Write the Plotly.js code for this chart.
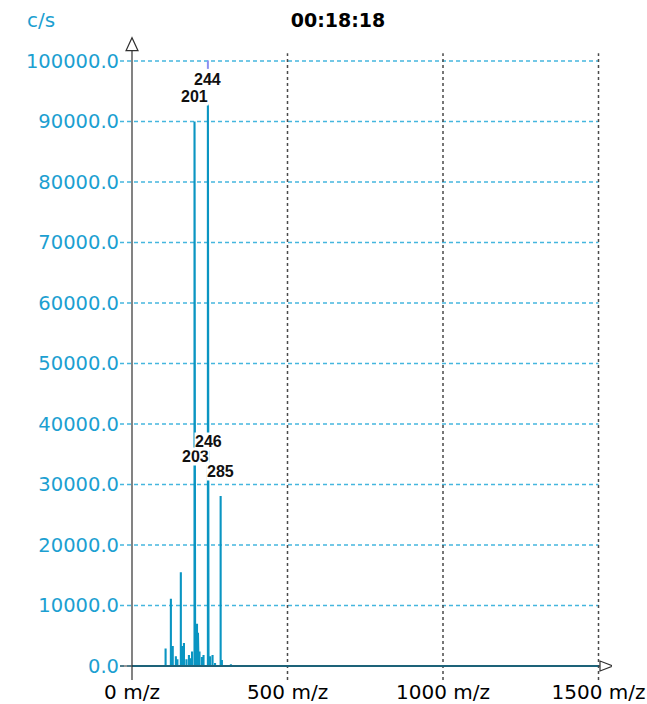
<!DOCTYPE html>
<html>
<head>
<meta charset="utf-8">
<script src="https://cdn.plot.ly/plotly-3.0.1.min.js"></script>
<style>
  html, body { margin: 0; padding: 0; background: #ffffff; }
  #chart { width: 647px; height: 704px; }
</style>
</head>
<body>
<div id="chart"></div>
<script>
// Centroided mass spectrum, single scan
const scanTime = '00:18:18';
const intensityUnit = 'c/s';
const scanRange = [0, 1500];

// Peak list: m/z and intensity (counts per second)
const peakMz = [108, 125, 131, 141, 146, 157, 161, 167, 175, 183, 188, 193,
                201, 203, 209, 212, 214, 217, 225, 230, 244, 246, 251, 259,
                267, 285, 289, 318];
const peakIntensity = [2900, 11100, 3300, 1600, 1100, 15500, 3300, 3800, 1100, 1800, 1300, 2400,
                       90000, 30500, 7000, 5500, 4300, 2400, 1500, 1800, 92800, 30700, 1600, 1800,
                       500, 28100, 1000, 300];
// Peaks that carry an m/z label
const labelledMz = [201, 203, 244, 246, 285];

// Cursor tick over the base peak
const cursorMz = 244;
const cursorSpan = [98700, 100100];

// Axis ticks
const yTickVals = [0, 10000, 20000, 30000, 40000, 50000, 60000, 70000, 80000, 90000, 100000];
const yTickText = yTickVals.map(v => v.toFixed(1));
const xTickVals = [0, 500, 1000, 1500];
const xTickText = xTickVals.map(v => v + ' m/z');

// ---- geometry ----
const W = 647, H = 704;
const margin = { l: 120, r: 35, t: 34, b: 14, pad: 0 };
const xRange = [-38.6, 1543.4];
const yRange = [-3967, 104463];
const plotW = W - margin.l - margin.r;
const plotH = H - margin.t - margin.b;
const pxPerX = plotW / (xRange[1] - xRange[0]);
const pxPerY = plotH / (yRange[1] - yRange[0]);

const blue = '#1c9fd1';
const stickColor = '#0a95c2';
const gridBlue = '#45b6de';
const gridGrey = '#4a4a4a';
const axisBlack = '#303030';

// ---- stick spectrum (sticks joined along the baseline) ----
const order = peakMz.map((m, i) => i).sort((a, b) => peakMz[a] - peakMz[b]);
const stickX = [scanRange[0]];
const stickY = [0];
order.forEach(i => {
  stickX.push(peakMz[i], peakMz[i], peakMz[i]);
  stickY.push(0, peakIntensity[i], 0);
});
stickX.push(scanRange[1]);
stickY.push(0);

const traces = [
  {
    x: stickX, y: stickY, type: 'scatter', mode: 'lines',
    line: { color: stickColor, width: 2.1 },
    hoverinfo: 'skip', showlegend: false
  },
  {
    x: [cursorMz, cursorMz], y: cursorSpan, type: 'scatter', mode: 'lines',
    line: { color: '#8c90f2', width: 2 },
    hoverinfo: 'skip', showlegend: false
  }
];

// ---- grid, axes and arrow heads ----
const gridTop = 101300, gridBottom = -2300, yAxisTop = 101700;
const shapes = [];
yTickVals.forEach(v => shapes.push({
  type: 'line', layer: 'below', xref: 'x', yref: 'y',
  x0: xRange[0], x1: scanRange[1], y0: v, y1: v,
  line: { color: gridBlue, width: 1.5, dash: '4px,3px' }
}));
xTickVals.filter(v => v > 0).forEach(v => shapes.push({
  type: 'line', layer: 'below', xref: 'x', yref: 'y',
  x0: v, x1: v, y0: gridBottom, y1: gridTop,
  line: { color: gridGrey, width: 1.5, dash: '3px,3px' }
}));
// x axis along zero intensity
shapes.push({
  type: 'line', layer: 'above', xref: 'x', yref: 'y',
  x0: xRange[0], x1: scanRange[1] + 5, y0: 0, y1: 0,
  line: { color: axisBlack, width: 1 }
});
// y axis
shapes.push({
  type: 'line', layer: 'above', xref: 'x', yref: 'y',
  x0: 0, x1: 0, y0: gridBottom, y1: yAxisTop,
  line: { color: axisBlack, width: 1.2 }
});
// open arrow heads
shapes.push({
  type: 'path', layer: 'above', xref: 'x', yref: 'y',
  xsizemode: 'pixel', ysizemode: 'pixel', xanchor: 0, yanchor: yAxisTop,
  path: 'M -6,0 L 0,13 L 6,0 Z',
  fillcolor: '#ffffff', line: { color: axisBlack, width: 1.2 }
});
shapes.push({
  type: 'path', layer: 'above', xref: 'x', yref: 'y',
  xsizemode: 'pixel', ysizemode: 'pixel', xanchor: scanRange[1], yanchor: 0,
  path: 'M 1.5,-5 L 14.5,0 L 1.5,5 Z',
  fillcolor: '#ffffff', line: { color: axisBlack, width: 1.2 }
});

// ---- peak labels, pushed upward when they would collide ----
const annotations = [];
const placed = [];
labelledMz.forEach(mz => {
  const h = peakIntensity[peakMz.indexOf(mz)];
  const top = h * pxPerY;
  let c = top + 25;
  let moved = true;
  while (moved) {
    moved = false;
    for (const p of placed) {
      if (Math.abs((mz - p.mz) * pxPerX) < 26 && Math.abs(c - p.c) < 13) {
        c = p.c + 15;
        moved = true;
      }
    }
  }
  placed.push({ mz, c });
  annotations.push({
    x: mz, y: h, xref: 'x', yref: 'y', showarrow: false,
    xanchor: 'center', yanchor: 'middle', yshift: c - top,
    text: '<b>' + mz + '</b>',
    font: { family: 'Liberation Sans, Arial, sans-serif', size: 16, color: '#111111' },
    bgcolor: '#ffffff', borderpad: 0
  });
});

// intensity unit, top-left
annotations.push({
  xref: 'paper', yref: 'paper',
  x: (25 - margin.l) / plotW, y: (H - margin.b - 20) / plotH,
  xanchor: 'left', yanchor: 'middle', showarrow: false,
  text: intensityUnit,
  font: { family: 'DejaVu Sans, sans-serif', size: 20, color: blue }
});

const layout = {
  width: W, height: H,
  margin: margin,
  paper_bgcolor: '#ffffff', plot_bgcolor: '#ffffff',
  showlegend: false,
  title: {
    text: '<b>' + scanTime + '</b>',
    font: { family: 'DejaVu Sans, sans-serif', size: 19, color: '#000000' },
    x: 338 / W, xref: 'container', xanchor: 'center',
    y: 1 - 20 / H, yref: 'container', yanchor: 'middle'
  },
  xaxis: {
    range: xRange, fixedrange: true,
    showgrid: false, zeroline: false, showline: false, ticks: '',
    tickmode: 'array', tickvals: xTickVals, ticktext: xTickText,
    tickfont: { family: 'DejaVu Sans, sans-serif', size: 20, color: '#000000' },
    ticklabelstandoff: -12
  },
  yaxis: {
    range: yRange, fixedrange: true,
    showgrid: false, zeroline: false, showline: false, ticks: '',
    tickmode: 'array', tickvals: yTickVals, ticktext: yTickText,
    tickfont: { family: 'DejaVu Sans, sans-serif', size: 19.5, color: blue }
  },
  shapes: shapes,
  annotations: annotations
};

Plotly.newPlot('chart', traces, layout, { staticPlot: true, displayModeBar: false });
</script>
</body>
</html>
